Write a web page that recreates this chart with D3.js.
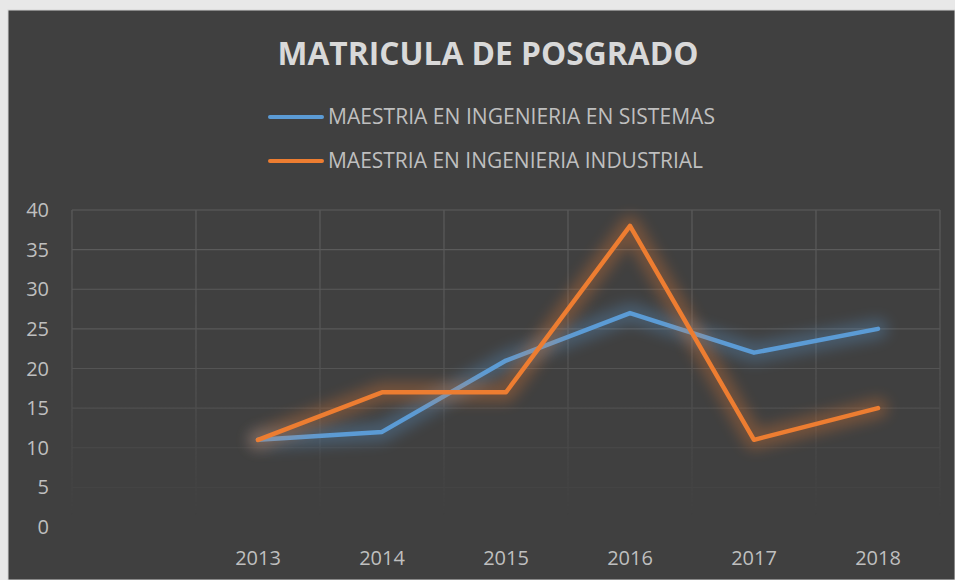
<!DOCTYPE html>
<html lang="es">
<head>
<meta charset="UTF-8" />
<title>Matricula de posgrado</title>
<script src="https://d3js.org/d3.v7.min.js"></script>
<style>
  html, body { margin: 0; padding: 0; background: #e8e8e8; }
  svg { display: block; }
  text { font-family: "Open Sans", "Noto Sans", sans-serif; }
</style>
</head>
<body>
<div id="chart"></div>
<script>
// datos
const years = ["", "2013", "2014", "2015", "2016", "2017", "2018"];
const sistemas = [null, 11, 12, 21, 27, 22, 25];
const industrial = [null, 11, 17, 17, 38, 11, 15];
const seriesNames = ["MAESTRIA EN INGENIERIA EN SISTEMAS", "MAESTRIA EN INGENIERIA INDUSTRIAL"];
const seriesColors = ["#5b9bd5", "#ed7d31"];
const yTicks = [0, 5, 10, 15, 20, 25, 30, 35, 40];

const W = 955, H = 580;
const svg = d3.select("#chart").append("svg").attr("width", W).attr("height", H);

// fondo del grafico
svg.append("rect").attr("x", 8).attr("y", 10).attr("width", W - 8).attr("height", H - 10)
  .attr("fill", "#404040").attr("stroke", "#d4d4d4").attr("stroke-width", 1);

const defs = svg.append("defs");
const fade = defs.append("linearGradient").attr("id", "fade")
  .attr("gradientUnits", "userSpaceOnUse")
  .attr("x1", 0).attr("y1", 205).attr("x2", 0).attr("y2", 515);
fade.append("stop").attr("offset", "0").attr("stop-color", "#fff").attr("stop-opacity", 1);
fade.append("stop").attr("offset", "0.45").attr("stop-color", "#fff").attr("stop-opacity", 0.85);
fade.append("stop").attr("offset", "1").attr("stop-color", "#fff").attr("stop-opacity", 0);
defs.append("mask").attr("id", "gridMask")
  .append("rect").attr("x", 0).attr("y", 0).attr("width", W).attr("height", H).attr("fill", "url(#fade)");

const glow = defs.append("filter").attr("id", "glow")
  .attr("x", "-20%").attr("y", "-30%").attr("width", "140%").attr("height", "160%");
glow.append("feGaussianBlur").attr("stdDeviation", 7);

const x = d3.scaleBand().domain(years.map((d, i) => i)).range([72, 940]);
const y = d3.scaleLinear().domain([0, 40]).range([527, 210]);

// cuadricula
const grid = svg.append("g").attr("mask", "url(#gridMask)")
  .attr("stroke", "#5c5c5c").attr("stroke-width", 1.2);
grid.selectAll(".h").data(yTicks.filter(d => d > 0)).join("line")
  .attr("x1", 72).attr("x2", 940)
  .attr("y1", d => y(d)).attr("y2", d => y(d));
grid.selectAll(".v").data(d3.range(years.length + 1)).join("line")
  .attr("x1", d => 72 + d * x.bandwidth()).attr("x2", d => 72 + d * x.bandwidth())
  .attr("y1", y(40)).attr("y2", 515);

// eje y
svg.append("g").selectAll("text").data(yTicks).join("text")
  .attr("x", 49).attr("y", d => y(d)).attr("dy", "0.35em")
  .attr("text-anchor", "end").attr("font-size", 20).attr("fill", "#bfbfbf")
  .text(d => d);

// eje x
svg.append("g").selectAll("text").data(years).join("text")
  .attr("x", (d, i) => x(i) + x.bandwidth() / 2).attr("y", 565)
  .attr("text-anchor", "middle").attr("font-size", 20).attr("fill", "#bfbfbf")
  .text(d => d);

// lineas
const line = d3.line()
  .defined(d => d[1] != null)
  .x(d => x(d[0]) + x.bandwidth() / 2)
  .y(d => y(d[1]));

[sistemas, industrial].forEach((vals, k) => {
  const pts = vals.map((v, i) => [i, v]);
  svg.append("path").attr("d", line(pts))
    .attr("fill", "none").attr("stroke", seriesColors[k]).attr("stroke-width", 20)
    .attr("stroke-linejoin", "round").attr("stroke-linecap", "round")
    .attr("opacity", 0.3).attr("filter", "url(#glow)");
  svg.append("path").attr("d", line(pts))
    .attr("fill", "none").attr("stroke", seriesColors[k]).attr("stroke-width", 4.5)
    .attr("stroke-linejoin", "round").attr("stroke-linecap", "round");
});

// titulo
svg.append("text").attr("x", 488).attr("y", 65).attr("text-anchor", "middle")
  .attr("font-size", 32).attr("font-weight", "bold").attr("fill", "#d9d9d9")
  .attr("textLength", 421).attr("lengthAdjust", "spacingAndGlyphs")
  .text("MATRICULA DE POSGRADO");

// leyenda
const legendY = [117, 161];
const legendLen = [387, 375];
seriesNames.forEach((name, k) => {
  const g = svg.append("g");
  g.append("line").attr("x1", 270).attr("x2", 322)
    .attr("y1", legendY[k]).attr("y2", legendY[k])
    .attr("stroke", seriesColors[k]).attr("stroke-width", 4).attr("stroke-linecap", "round");
  g.append("text").attr("x", 328).attr("y", legendY[k] + 7)
    .attr("font-size", 21).attr("fill", "#bfbfbf")
    .attr("textLength", legendLen[k]).attr("lengthAdjust", "spacingAndGlyphs")
    .text(name);
});
</script>
</body>
</html>
